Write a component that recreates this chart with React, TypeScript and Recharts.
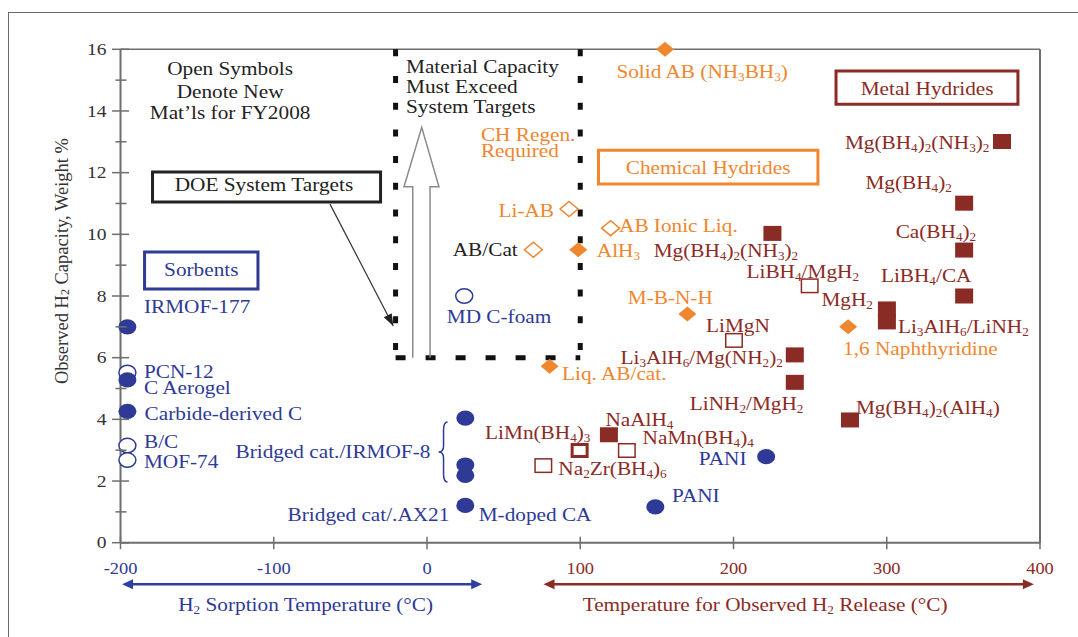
import React from 'react';
import { ScatterChart, Scatter, XAxis, YAxis, ReferenceLine, ReferenceArea } from 'recharts';

const SERIF = "'Liberation Serif', 'Times New Roman', serif";
const BLUE = '#2e3a96';
const ORANGE = '#f0862e';
const RED = '#8b2b25';
const INK = '#222222';
const AXIS = '#6e6e6e';
const COLORS: Record<string, string> = { b: BLUE, o: ORANGE, r: RED, k: INK };

// axes
const xTicks = [-200, -100, 0, 100, 200, 300, 400];
const yTicks = [0, 1, 2, 3, 4, 5, 6, 7, 8, 9, 10, 11, 12, 13, 14, 15, 16];
const yLabelled = [0, 2, 4, 6, 8, 10, 12, 14, 16];
const sorptionSpan = [-199, 36];
const releaseSpan = [76, 396];

// sorbents (blue circles)
const sorbentFilled = [
  { name: 'IRMOF-177', x: -195.5, y: 7.0 },
  { name: 'C Aerogel', x: -195.5, y: 5.28 },
  { name: 'Carbide-derived C', x: -195.5, y: 4.26 },
  { name: 'Bridged cat./IRMOF-8', x: 25, y: 4.04 },
  { name: 'Bridged cat./IRMOF-8', x: 25, y: 2.52 },
  { name: 'Bridged cat./IRMOF-8', x: 25, y: 2.18 },
  { name: 'Bridged cat/.AX21', x: 25, y: 1.21 },
  { name: 'PANI', x: 221.3, y: 2.79 },
  { name: 'PANI', x: 149, y: 1.16 },
];
const sorbentOpen = [
  { name: 'PCN-12', x: -195.5, y: 5.52 },
  { name: 'B/C', x: -195.5, y: 3.15 },
  { name: 'MOF-74', x: -195.5, y: 2.68 },
  { name: 'MD C-foam', x: 24.3, y: 8.0 },
];

// chemical hydrides (orange diamonds)
const chemFilled = [
  { name: 'Solid AB', x: 155.3, y: 16.0 },
  { name: 'AlH3', x: 98.7, y: 9.5 },
  { name: 'M-B-N-H', x: 169.9, y: 7.42 },
  { name: 'Liq. AB/cat.', x: 80, y: 5.72 },
  { name: '1,6 Naphthyridine', x: 274.8, y: 7.0 },
];
const chemOpen = [
  { name: 'Li-AB', x: 92.7, y: 10.82 },
  { name: 'AB Ionic Liq.', x: 119.8, y: 10.2 },
  { name: 'AB/Cat', x: 69.4, y: 9.5 },
];

// metal hydrides (red squares)
const metalFilled = [
  { name: 'Mg(BH4)2(NH3)2', x: 375.2, y: 13.01 },
  { name: 'Mg(BH4)2', x: 350.5, y: 11.01 },
  { name: 'Ca(BH4)2', x: 350.5, y: 9.49 },
  { name: 'LiBH4/CA', x: 350.5, y: 8.0 },
  { name: 'MgH2', x: 300.1, y: 7.58 },
  { name: 'Li3AlH6/LiNH2', x: 300.1, y: 7.16 },
  { name: 'Mg(BH4)2(NH3)2', x: 225.4, y: 10.03 },
  { name: 'Li3AlH6/Mg(NH2)2', x: 240, y: 6.09 },
  { name: 'LiNH2/MgH2', x: 240, y: 5.2 },
  { name: 'Mg(BH4)2(AlH4)', x: 276, y: 3.98 },
  { name: 'NaAlH4', x: 118.7, y: 3.5 },
];
const metalOpen = [
  { name: 'LiBH4/MgH2', x: 249.7, y: 8.33 },
  { name: 'LiMgN', x: 200.3, y: 6.56 },
  { name: 'NaMn(BH4)4', x: 130.4, y: 2.99 },
  { name: 'Na2Zr(BH4)6', x: 75.9, y: 2.5 },
];
const metalOpenBold = [{ name: 'LiMn(BH4)3', x: 99.6, y: 2.99 }];

// annotations, in data units
const notes = [
  { t: 'IRMOF-177', x: -184.7, y: 7.64, c: 'b' },
  { t: 'PCN-12', x: -184.7, y: 5.53, c: 'b' },
  { t: 'C Aerogel', x: -184.7, y: 5.02, c: 'b' },
  { t: 'Carbide-derived C', x: -184.3, y: 4.17, c: 'b' },
  { t: 'B/C', x: -184.7, y: 3.26, c: 'b' },
  { t: 'MOF-74', x: -184.7, y: 2.62, c: 'b' },
  { t: 'Bridged cat./IRMOF-8', x: 2.2, y: 2.94, c: 'b', a: 'end' },
  { t: 'Bridged cat/.AX21', x: 14.6, y: 0.9, c: 'b', a: 'end' },
  { t: 'M-doped CA', x: 33.7, y: 0.9, c: 'b' },
  { t: 'MD C-foam', x: 12.9, y: 7.33, c: 'b' },
  { t: 'PANI', x: 208.5, y: 2.71, c: 'b', a: 'end' },
  { t: 'PANI', x: 159.9, y: 1.51, c: 'b' },
  { t: 'Sorbents', x: -147.3, y: 8.84, c: 'b', a: 'middle' },
  { t: 'Solid AB (NH_3BH_3)', x: 123.6, y: 15.27, c: 'o' },
  { t: 'CH Regen.', x: 35.2, y: 13.22, c: 'o' },
  { t: 'Required', x: 35.2, y: 12.7, c: 'o' },
  { t: 'Li-AB', x: 82.9, y: 10.76, c: 'o', a: 'end' },
  { t: 'AB Ionic Liq.', x: 125.3, y: 10.27, c: 'o' },
  { t: 'AlH_3', x: 110.8, y: 9.46, c: 'o' },
  { t: 'M-B-N-H', x: 131.0, y: 7.93, c: 'o' },
  { t: 'Liq. AB/cat.', x: 88.1, y: 5.47, c: 'o' },
  { t: '1,6 Naphthyridine', x: 271.5, y: 6.28, c: 'o' },
  { t: 'Chemical Hydrides', x: 183.4, y: 12.15, c: 'o', a: 'middle' },
  { t: 'AB/Cat', x: 59.2, y: 9.49, c: 'k', a: 'end' },
  { t: 'Mg(BH_4)_2(NH_3)_2', x: 367.0, y: 12.96, c: 'r', a: 'end' },
  { t: 'Mg(BH_4)_2', x: 286.1, y: 11.66, c: 'r' },
  { t: 'Ca(BH_4)_2', x: 305.8, y: 10.07, c: 'r' },
  { t: 'LiBH_4/CA', x: 296.2, y: 8.65, c: 'r' },
  { t: 'Mg(BH_4)_2(NH_3)_2', x: 147.9, y: 9.46, c: 'r' },
  { t: 'LiBH_4/MgH_2', x: 208.5, y: 8.78, c: 'r' },
  { t: 'MgH_2', x: 291.0, y: 7.87, c: 'r', a: 'end' },
  { t: 'Li_3AlH_6/LiNH_2', x: 307.3, y: 7.0, c: 'r' },
  { t: 'LiMgN', x: 182.1, y: 7.03, c: 'r' },
  { t: 'Li_3AlH_6/Mg(NH_2)_2', x: 232.2, y: 5.99, c: 'r', a: 'end' },
  { t: 'LiNH_2/MgH_2', x: 171.5, y: 4.5, c: 'r' },
  { t: 'Mg(BH_4)_2(AlH_4)', x: 279.9, y: 4.37, c: 'r' },
  { t: 'NaAlH_4', x: 116.4, y: 3.98, c: 'r' },
  { t: 'LiMn(BH_4)_3', x: 37.9, y: 3.56, c: 'r' },
  { t: 'NaMn(BH_4)_4', x: 140.7, y: 3.4, c: 'r' },
  { t: 'Na_2Zr(BH_4)_6', x: 85.7, y: 2.4, c: 'r' },
  { t: 'Metal Hydrides', x: 326.3, y: 14.71, c: 'r', a: 'middle' },
  { t: 'Open Symbols', x: -128.5, y: 15.36, c: 'k', a: 'middle' },
  { t: 'Denote New', x: -128.5, y: 14.61, c: 'k', a: 'middle' },
  { t: 'Mat\u2019ls for FY2008', x: -128.5, y: 13.93, c: 'k', a: 'middle' },
  { t: 'Material Capacity', x: -13.7, y: 15.42, c: 'k' },
  { t: 'Must Exceed', x: -13.7, y: 14.78, c: 'k' },
  { t: 'System Targets', x: -13.7, y: 14.13, c: 'k' },
  { t: 'DOE System Targets', x: -106.4, y: 11.6, c: 'k', a: 'middle' },
];

const boxes = [
  { x1: -179.1, x2: -30.3, y1: 11.05, y2: 12.02, c: 'k' },
  { x1: -184.3, x2: -110.3, y1: 8.23, y2: 9.43, c: 'b' },
  { x1: 111.9, x2: 255.1, y1: 11.63, y2: 12.73, c: 'o' },
  { x1: 266.9, x2: 385.6, y1: 14.22, y2: 15.3, c: 'r' },
];

const upArrow = [
  { x: -9.3, y: 6 },
  { x: -9.3, y: 11.54 },
  { x: -15, y: 11.54 },
  { x: -3.45, y: 13.47 },
  { x: 7.8, y: 11.54 },
  { x: 2, y: 11.54 },
  { x: 2, y: 6 },
];
const pointer = [{ x: -63.3, y: 10.98 }, { x: -22, y: 7.03 }];
const brace = [{ x: 10.8, y: 2.94 }];
const targetLeft = -20.5;
const targetRight = 100;
const targetFloor = 6;

function RichText({ x, y, text, fill, anchor = 'start', size = 18.5 }: any) {
  const parts = text.split(/(_\d)/).filter((s: string) => s.length);
  const drop = size * 0.15;
  let down = false;
  const spans = parts.map((p: string, i: number) => {
    if (p[0] === '_') {
      const el = (
        <tspan key={i} fontSize={size * 0.62} dy={down ? 0 : drop}>
          {p.slice(1)}
        </tspan>
      );
      down = true;
      return el;
    }
    const el = (
      <tspan key={i} dy={down ? -drop : 0}>
        {p}
      </tspan>
    );
    down = false;
    return el;
  });
  return (
    <text
      transform={`translate(${x},${y + size * 0.33}) scale(1.15,1)`}
      fontFamily={SERIF}
      fontSize={size}
      fill={fill}
      textAnchor={anchor}
    >
      {spans}
    </text>
  );
}

const filledCircle = (color: string) => (p: any) => <ellipse cx={p.cx} cy={p.cy} rx={9} ry={7.6} fill={color} />;
const openCircle = (color: string) => (p: any) => (
  <ellipse cx={p.cx} cy={p.cy} rx={8.5} ry={7.2} fill="#fff" stroke={color} strokeWidth={1.5} />
);
const diamond = (color: string, open: boolean) => (p: any) => (
  <polygon
    points={`${p.cx},${p.cy - 7.5} ${p.cx + 9},${p.cy} ${p.cx},${p.cy + 7.5} ${p.cx - 9},${p.cy}`}
    fill={open ? '#fff' : color}
    stroke={color}
    strokeWidth={open ? 1.5 : 0}
  />
);
const square = (color: string, open: boolean, sw = 1.5) => (p: any) => (
  <rect
    x={p.cx - 9 + (open ? sw / 2 : 0)}
    y={p.cy - 7.5 + (open ? sw / 2 : 0)}
    width={18 - (open ? sw : 0)}
    height={15 - (open ? sw : 0)}
    fill={open ? '#fff' : color}
    stroke={open ? color : 'none'}
    strokeWidth={sw}
  />
);

const noteShape = (p: any) => (
  <RichText x={p.cx} y={p.cy} text={p.payload.t} fill={COLORS[p.payload.c]} anchor={p.payload.a || 'start'} />
);

const pointerHead = (p: any) => (
  <polygon
    transform={`translate(${p.cx},${p.cy}) rotate(62.6)`}
    points="0,0 -12,-4.5 -12,4.5"
    fill="#222"
  />
);

const braceShape = (p: any) => (
  <path
    d={`M ${p.cx + 4} ${p.cy - 30} Q ${p.cx} ${p.cy - 30} ${p.cx} ${p.cy - 22} L ${p.cx} ${p.cy - 6} Q ${p.cx} ${p.cy} ${p.cx - 5} ${p.cy} Q ${p.cx} ${p.cy} ${p.cx} ${p.cy + 6} L ${p.cx} ${p.cy + 22} Q ${p.cx} ${p.cy + 30} ${p.cx + 4} ${p.cy + 30}`}
    fill="none"
    stroke={BLUE}
    strokeWidth={1.5}
  />
);

const none = () => <g />;

function XTick({ x, y, payload }: any) {
  const v = payload.value;
  return (
    <g>
      <line x1={x} x2={x} y1={y - 6} y2={y + 6.5} stroke={AXIS} strokeWidth={1.5} />
      <RichText x={x} y={y + 26.5} text={String(v)} fill={v <= 0 ? BLUE : RED} anchor="middle" size={16} />
    </g>
  );
}

function YTick({ x, y, payload }: any) {
  const v = payload.value;
  const major = yLabelled.includes(v);
  return (
    <g>
      <line x1={x - (major ? 8.5 : 5)} x2={x + (major ? 8.5 : 6)} y1={y} y2={y} stroke={AXIS} strokeWidth={1.5} />
      {major && <RichText x={x - 14} y={y} text={String(v)} fill="#333" anchor="end" size={17} />}
    </g>
  );
}

function DoubleArrow({ x1, x2, y, color }: any) {
  return (
    <g>
      <line x1={x1 + 6} x2={x2 - 6} y1={y} y2={y} stroke={color} strokeWidth={2.5} />
      <polygon points={`${x1},${y} ${x1 + 11},${y - 5} ${x1 + 11},${y + 5}`} fill={color} />
      <polygon points={`${x2},${y} ${x2 - 11},${y - 5} ${x2 - 11},${y + 5}`} fill={color} />
    </g>
  );
}

function XTitles(props: any) {
  const vb = props && props.viewBox && props.viewBox.width ? props.viewBox : { x: 120.5, y: 542.7, width: 919.5 };
  const px = (v: number) => vb.x + ((v + 200) / 600) * vb.width;
  const ay = vb.y + 41.6;
  const ty = vb.y + 62;
  return (
    <g>
      <DoubleArrow x1={px(sorptionSpan[0])} x2={px(sorptionSpan[1])} y={ay} color="#2f3ea2" />
      <DoubleArrow x1={px(releaseSpan[0])} x2={px(releaseSpan[1])} y={ay} color={RED} />
      <RichText x={px(-79.2)} y={ty} text="H_2 Sorption Temperature (°C)" fill={BLUE} anchor="middle" />
      <RichText x={px(220.6)} y={ty} text="Temperature for Observed H_2 Release (°C)" fill={RED} anchor="middle" />
    </g>
  );
}

function YTitle(props: any) {
  const vb = props && props.viewBox && props.viewBox.height ? props.viewBox : { x: 60.5, y: 49.3, width: 60, height: 493.4 };
  const cx = vb.x + 1;
  const cy = vb.y + vb.height / 2 - 35;
  return (
    <text
      transform={`translate(${cx},${cy}) rotate(-90)`}
      fontFamily={SERIF}
      fontSize={18.5}
      fill="#333"
      textAnchor="middle"
      dominantBaseline="central"
    >
      <tspan>Observed H</tspan>
      <tspan fontSize={12} dy={3}>2</tspan>
      <tspan dy={-3}> Capacity, Weight %</tspan>
    </text>
  );
}

export default function App() {
  return (
    <div style={{ position: 'absolute', left: 0, top: 0, width: 1078, height: 637, overflow: 'hidden', background: '#fff' }}>
      <div
        style={{
          position: 'absolute',
          left: 8,
          top: 12,
          width: 1120,
          height: 700,
          border: '1.5px solid #6a6a6a',
        }}
      />
      <div style={{ position: 'absolute', left: 0, top: 0 }}>
        <ScatterChart width={1078} height={637} margin={{ top: 49.3, right: 38, bottom: 54.3, left: 60.5 }}>
          <XAxis
            type="number"
            dataKey="x"
            domain={[-200, 400]}
            ticks={xTicks}
            interval={0}
            height={40}
            tickSize={0}
            tickMargin={0}
            tickLine={false}
            axisLine={{ stroke: AXIS, strokeWidth: 2 }}
            tick={<XTick />}
            label={{ content: XTitles }}
          />
          <YAxis
            type="number"
            dataKey="y"
            domain={[0, 16]}
            ticks={yTicks}
            interval={0}
            width={60}
            tickSize={0}
            tickMargin={0}
            tickLine={false}
            axisLine={{ stroke: AXIS, strokeWidth: 2 }}
            tick={<YTick />}
            label={{ content: YTitle }}
          />
          <ReferenceLine y={16} stroke={AXIS} strokeWidth={1.5} />
          <ReferenceLine x={400} stroke={AXIS} strokeWidth={2} />
          {boxes.map((b, i) => (
            <ReferenceArea
              key={i}
              x1={b.x1}
              x2={b.x2}
              y1={b.y1}
              y2={b.y2}
              fill="none"
              stroke={COLORS[b.c]}
              strokeWidth={3}
            />
          ))}
          <ReferenceLine
            segment={[{ x: targetLeft, y: 16 }, { x: targetLeft, y: targetFloor }]}
            stroke="#111"
            strokeWidth={5}
            strokeDasharray="7 19.7"
          />
          <ReferenceLine
            segment={[{ x: targetRight, y: 16 }, { x: targetRight, y: targetFloor }]}
            stroke="#111"
            strokeWidth={5}
            strokeDasharray="7 19.7"
          />
          <ReferenceLine
            segment={[{ x: targetLeft, y: targetFloor }, { x: targetRight, y: targetFloor }]}
            stroke="#111"
            strokeWidth={5}
            strokeDasharray="10 20"
          />
          <ReferenceLine segment={pointer} stroke="#333" strokeWidth={1.2} />
          <Scatter data={upArrow} shape={none} line={{ stroke: '#8a8a8a', strokeWidth: 1.5 }} lineType="joint" isAnimationActive={false} />
          <Scatter data={[pointer[1]]} shape={pointerHead} isAnimationActive={false} />
          <Scatter data={brace} shape={braceShape} isAnimationActive={false} />
          <Scatter data={sorbentOpen} shape={openCircle(BLUE)} isAnimationActive={false} />
          <Scatter data={sorbentFilled} shape={filledCircle(BLUE)} isAnimationActive={false} />
          <Scatter data={chemOpen} shape={diamond(ORANGE, true)} isAnimationActive={false} />
          <Scatter data={chemFilled} shape={diamond(ORANGE, false)} isAnimationActive={false} />
          <Scatter data={metalOpen} shape={square(RED, true)} isAnimationActive={false} />
          <Scatter data={metalOpenBold} shape={square(RED, true, 3)} isAnimationActive={false} />
          <Scatter data={metalFilled} shape={square(RED, false)} isAnimationActive={false} />
          <Scatter data={notes} shape={noteShape} isAnimationActive={false} />
        </ScatterChart>
      </div>
    </div>
  );
}
